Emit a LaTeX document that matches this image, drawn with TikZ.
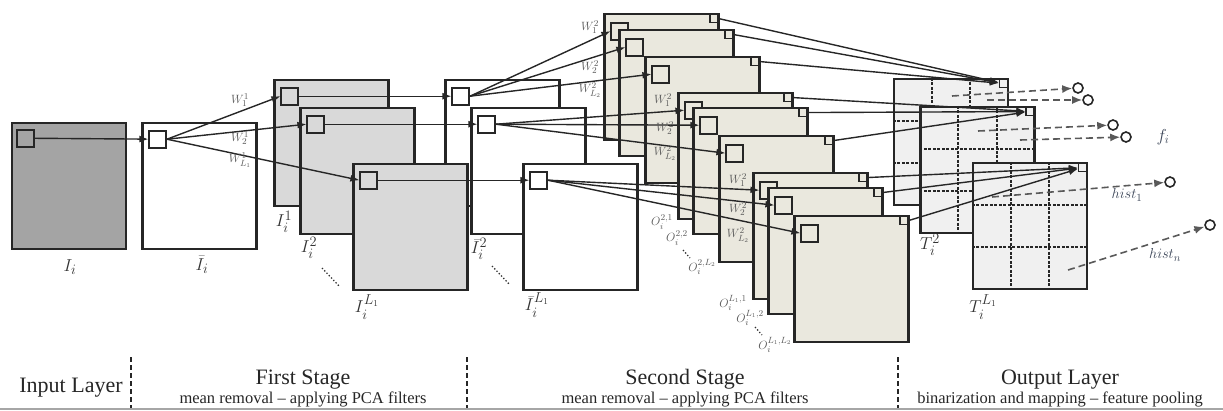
\documentclass[tikz,border=0pt]{standalone}
\usepackage{fontspec}
\setmainfont{Liberation Serif}
\usepackage{amsmath}
\usetikzlibrary{positioning,arrows.meta,calc}
\definecolor{edgegray}{HTML}{262626}
\definecolor{inputgray}{HTML}{A4A4A4}
\definecolor{firstgray}{HTML}{D9D9D9}
\definecolor{secondbeige}{HTML}{EAE8DE}
\definecolor{outgray}{HTML}{F0F0F0}
\definecolor{labgray}{HTML}{333333}
\definecolor{weightgray}{HTML}{5A5A5A}
\definecolor{histgray}{HTML}{3C4658}

\begin{document}
\begin{tikzpicture}[x=1pt,y=-1pt,
  fmap/.style={draw=edgegray,line width=2.2pt,minimum width=114pt,minimum height=126pt,inner sep=0pt},
  win/.style={draw=edgegray,line width=1.6pt,minimum size=17pt,inner sep=0pt},
  tick/.style={draw=edgegray,line width=1.3pt,minimum size=8pt,inner sep=0pt,anchor=north east},
  conn/.style={edgegray,line width=1.4pt,-{Latex[length=9pt,width=7pt]}},
  pool/.style={black!65,line width=1.6pt,dash pattern=on 7pt off 4pt,-{Latex[length=10pt,width=8pt]}},
  bead/.style={circle,draw=edgegray,line width=1.6pt,fill=white,minimum size=10pt,inner sep=0pt},
  cellline/.style={edgegray,line width=1.8pt,dash pattern=on 3pt off 1.5pt},
  dotpath/.style={labgray,line width=1.3pt,dotted},
  sep/.style={edgegray,line width=1.6pt,dash pattern=on 5pt off 3pt},
  maplab/.style={inner sep=1pt,text=labgray,font=\fontsize{19}{21}\selectfont},
  wlab/.style={inner sep=1pt,text=weightgray,font=\fontsize{13}{14}\selectfont},
  olab/.style={inner sep=1pt,text=weightgray,font=\fontsize{13}{14}\selectfont},
  histlab/.style={inner sep=1pt,text=histgray,font=\fontsize{15}{16}\selectfont},
  title/.style={anchor=base,text=black!85,font=\fontsize{22}{26}\selectfont},
  subtitle/.style={anchor=base,text=black!85,font=\fontsize{16.5}{18}\selectfont}]

\useasboundingbox (0,0) rectangle (1223,410);

\node[fmap,fill=inputgray] (in) at (69,186) {};
\node[win,below right=7pt and 5pt of in.north west] (w0) {};
\node[fmap,fill=white] (mr) at (199.5,186) {};
\node[win,below right=8pt and 7pt of mr.north west] (w1) {};

\foreach \m/\cx/\cy in {q1/502.5/143,q2/528.5/171,q3/580.5/227}{
  \node[fmap,fill=white] (\m) at (\cx,\cy) {};
  \node[win,below right=8pt and 7pt of \m.north west] (w\m) {};
}
\foreach \m/\cx/\cy in {p1/331.5/143,p2/357.5/171,p3/410.5/227}{
  \node[fmap,fill=firstgray] (\m) at (\cx,\cy) {};
  \node[win,below right=8pt and 7pt of \m.north west] (w\m) {};
}
\foreach \m/\cx/\cy in {a1/661.5/77,a2/676.5/93,a3/702.5/120,b1/735.5/156,b2/750.5/171,b3/776.5/199,c1/810.5/236,c2/825.5/251,c3/851.5/279}{
  \node[fmap,fill=secondbeige] (\m) at (\cx,\cy) {};
  \node[win,below right=9pt and 7pt of \m.north west] (w\m) {};
  \node[tick] (k\m) at ([xshift=-1pt,yshift=-1pt]\m.north east) {};
}
\foreach \m/\cx/\cy in {t1/951/142,t2/977.5/170,t3/1030/226}{
  \node[fmap,fill=outgray] (\m) at (\cx,\cy) {};
  \foreach \k in {1,2}{
    \draw[cellline] ($(\m.north west)!\k/3!(\m.north east)$) -- ($(\m.south west)!\k/3!(\m.south east)$);
    \draw[cellline] ($(\m.north west)!\k/3!(\m.south west)$) -- ($(\m.north east)!\k/3!(\m.south east)$);
  }
  \node[tick] (k\m) at ([xshift=-1pt,yshift=-1pt]\m.north east) {};
}

\draw[conn] (w0) -- (w1);
\foreach \t in {p1,p2,p3} \draw[conn] (w1.east) -- (w\t.west);
\foreach \s/\t in {p1/q1,p2/q2,p3/q3} \draw[conn] (w\s) -- (w\t);
\foreach \t in {a1,a2,a3} \draw[conn] (wq1.east) -- (w\t.west);
\foreach \t in {b1,b2,b3} \draw[conn] (wq2.east) -- (w\t.west);
\foreach \t in {c1,c2,c3} \draw[conn] (wq3.east) -- (w\t.west);
\foreach \s in {a1,a2,a3} \draw[conn] (k\s.east) -- (kt1);
\foreach \s in {b1,b2,b3} \draw[conn] (k\s.east) -- (kt2);
\foreach \s in {c1,c2,c3} \draw[conn] (k\s.east) -- (kt3);

\coordinate (s1) at (952,96);
\coordinate (s2) at (987,100);
\coordinate (s3) at (978,131);
\coordinate (s4) at (1020,140);
\coordinate (s5) at (992,197);
\coordinate (s6) at (1068,270);
\node[bead] (o1) at (1078,88) {};
\node[bead] (o2) at (1088,100) {};
\node[bead] (o3) at (1113,125) {};
\node[bead] (o4) at (1126,137) {};
\node[bead] (o5) at (1170,182) {};
\node[bead] (o6) at (1210,225) {};
\foreach \i in {1,...,6} \draw[pool] (s\i) -- (o\i);

\node[maplab] (lin) at (70,267) {$I_i$};
\node[maplab] (lmr) at (202,265) {$\bar{I}_i$};
\node[maplab] (lp1) at (284,222) {$I_i^1$};
\node[maplab] (lp2) at (309,248) {$I_i^2$};
\node[maplab] (lp3) at (367,307) {$I_i^{L_1}$};
\draw[dotpath] (322,268) -- (340,287);
\node[maplab] (lq2) at (479,249) {$\bar{I}_i^2$};
\node[maplab] (lq3) at (537,305) {$\bar{I}_i^{L_1}$};
\draw[dotpath] (492,266) -- (510,285);
\node[maplab] (lt2) at (930,245) {$T_i^2$};
\node[maplab] (lt3) at (983,307) {$T_i^{L_1}$};

\node[wlab] (wl11) at (240,100) {$W_1^1$};
\node[wlab] (wl12) at (240,138) {$W_2^1$};
\node[wlab] (wl13) at (240,160) {$W_{L_1}^1$};
\node[wlab] (wla1) at (590,27) {$W_1^2$};
\node[wlab] (wla2) at (590,67) {$W_2^2$};
\node[wlab] (wla3) at (590,90) {$W_{L_2}^2$};
\node[wlab] (wlb1) at (663,100) {$W_1^2$};
\node[wlab] (wlb2) at (665,128) {$W_2^2$};
\node[wlab] (wlb3) at (665,153) {$W_{L_2}^2$};
\node[wlab] (wlc1) at (738,180) {$W_1^2$};
\node[wlab] (wlc2) at (738,209) {$W_2^2$};
\node[wlab] (wlc3) at (738,235) {$W_{L_2}^2$};

\node[olab] (ob1) at (662,222) {$O_i^{2,1}$};
\node[olab] (ob2) at (677,238) {$O_i^{2,2}$};
\draw[dotpath] (683,250) -- (690,258);
\node[olab] (ob3) at (702,267) {$O_i^{2,L_2}$};
\node[olab] (oc1) at (733,303) {$O_i^{L_1,1}$};
\node[olab] (oc2) at (750,318) {$O_i^{L_1,2}$};
\draw[dotpath] (755,327) -- (762,335);
\node[olab] (oc3) at (775,345) {$O_i^{L_1,L_2}$};

\node[histlab,font=\fontsize{17}{18}\selectfont] (fi) at (1163,137) {$f_i$};
\node[histlab] (h1) at (1127,195) {$hist_1$};
\node[histlab] (hn) at (1165,255) {$hist_n$};

\node[title] (inlayer) at (71,392) {Input Layer};
\node[title] (st1) at (303,384) {First Stage};
\node[subtitle] (st1sub) at (303,403) {mean removal -- applying PCA filters};
\node[title] (st2) at (685,384) {Second Stage};
\node[subtitle] (st2sub) at (685,403) {mean removal -- applying PCA filters};
\node[title] (st3) at (1060,384) {Output Layer};
\node[subtitle] (st3sub) at (1060,403) {binarization and mapping -- feature pooling};
\foreach \x in {131,467,898} \draw[sep] (\x,357) -- (\x,410);
\draw[gray!70,line width=2pt] (0,408.5) -- (1223,408.5);
\end{tikzpicture}
\end{document}
